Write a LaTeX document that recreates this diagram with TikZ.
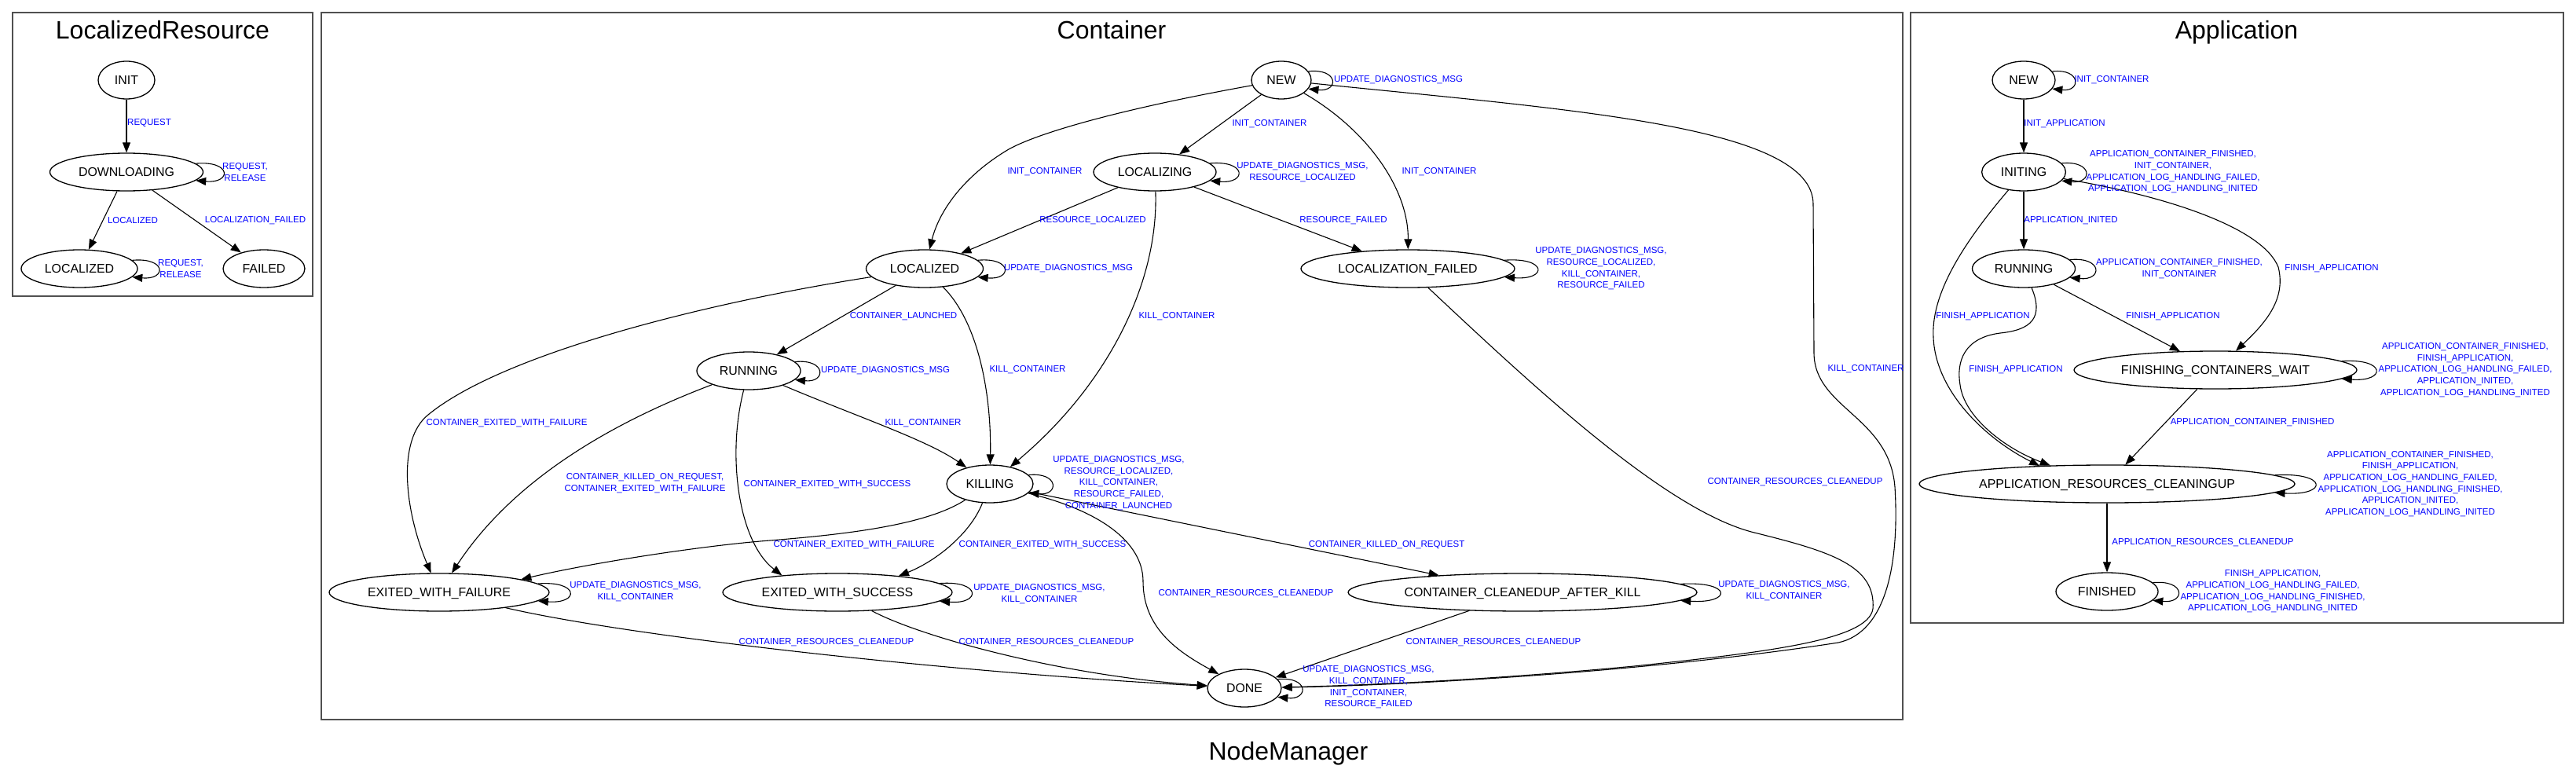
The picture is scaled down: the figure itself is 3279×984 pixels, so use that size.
\documentclass[tikz,border=0pt]{standalone}
\usepackage{fontspec}
\setmainfont{Liberation Sans}
\usetikzlibrary{arrows.meta,shapes.geometric}
\definecolor{clustergray}{RGB}{80,80,80}
\begin{document}
\begin{tikzpicture}[
		x=0.5pt, y=-0.5pt,
		state/.style={ellipse, draw, line width=0.65pt, inner sep=0pt, minimum height=24pt,
			text height=5.7pt, text depth=0pt, font=\fontsize{7.95pt}{9pt}\selectfont},
		lbl/.style={inner sep=0pt, text=blue, align=center, font=\fontsize{5.75pt}{7.35pt}\selectfont},
		edge/.style={line width=0.55pt, -{Triangle[length=6.5pt,width=5pt]}},
		cluster/.style={draw=clustergray, line width=0.9pt},
		title/.style={anchor=base, inner sep=0pt, font=\fontsize{16pt}{19pt}\selectfont}
	]
	\useasboundingbox (0,0) rectangle (3279,984);

	\draw[cluster] (16,16) rectangle (398,377);
	\node[title] (t-lr) at (207,50) {LocalizedResource};
	\node[state, minimum width=36pt] (lr-init) at (161,102) {INIT};
	\node[state, minimum width=97.5pt] (lr-dl) at (161,219) {DOWNLOADING};
	\node[state, minimum width=74pt] (lr-loc) at (101,342) {LOCALIZED};
	\node[state, minimum width=52pt] (lr-failed) at (336,342) {FAILED};
	\draw[edge] (lr-init) -- (lr-dl);
	\draw[edge] (lr-dl.7) .. controls +(46,-4) and +(46,4) .. (lr-dl.-7);
	\draw[edge] (lr-dl) -- (lr-loc);
	\draw[edge] (lr-dl) -- (lr-failed);
	\draw[edge] (lr-loc.9) .. controls +(44,-4) and +(44,4) .. (lr-loc.-9);
	\node[lbl] (l-lr1) at (190,157) {REQUEST};
	\node[lbl] (l-lr2) at (312,219) {REQUEST,\\RELEASE};
	\node[lbl] (l-lr3) at (169,281) {LOCALIZED};
	\node[lbl] (l-lr4) at (325,281) {LOCALIZATION\_FAILED};
	\node[lbl] (l-lr5) at (230,342) {REQUEST,\\RELEASE};

	\draw[cluster] (409,16) rectangle (2422,916);
	\node[title] (t-c) at (1415,50) {Container};
	\node[state, minimum width=38pt] (c-new) at (1631,102) {NEW};
	\node[state, minimum width=78pt] (c-lzing) at (1470,219) {LOCALIZING};
	\node[state, minimum width=74.5pt] (c-lzed) at (1177,342) {LOCALIZED};
	\node[state, minimum width=136pt] (c-lfail) at (1792,342) {LOCALIZATION\_FAILED};
	\node[state, minimum width=66pt] (c-run) at (953,472) {RUNNING};
	\node[state, minimum width=55pt] (c-kill) at (1260,616) {KILLING};
	\node[state, minimum width=140pt] (c-ewf) at (559,754) {EXITED\_WITH\_FAILURE};
	\node[state, minimum width=146pt] (c-ews) at (1066,754) {EXITED\_WITH\_SUCCESS};
	\node[state, minimum width=222pt] (c-ccak) at (1938,754) {CONTAINER\_CLEANEDUP\_AFTER\_KILL};
	\node[state, minimum width=47pt] (c-done) at (1584,876) {DONE};
	\draw[edge] (c-new.18) .. controls +(39,-4) and +(39,4) .. (c-new.-18);
	\draw[edge] (c-new) -- (c-lzing);
	\draw[edge] (c-new) .. controls (1420,140) and (1320,170) .. (1284,190)
		.. controls (1225,225) and (1195,270) .. (c-lzed);
	\draw[edge] (c-new) .. controls (1740,165) and (1793,240) .. (c-lfail);
	\draw[edge] (c-new) .. controls (2000,140) and (2308,160) .. (2308,260) -- (2309,450)
		.. controls (2310,520) and (2405,530) .. (2412,620)
		.. controls (2418,720) and (2400,805) .. (2340,818)
		.. controls (2100,855) and (1800,872) .. (c-done);
	\draw[edge] (c-lzing.9) .. controls +(47,-4) and +(47,4) .. (c-lzing.-9);
	\draw[edge] (c-lzing) -- (c-lzed);
	\draw[edge] (c-lzing) -- (c-lfail);
	\draw[edge] (c-lzing) .. controls (1475,360) and (1410,490) .. (c-kill);
	\draw[edge] (c-lzed.9) .. controls +(44,-4) and +(44,4) .. (c-lzed.-9);
	\draw[edge] (c-lzed) -- (c-run);
	\draw[edge] (c-lzed) .. controls (1245,410) and (1262,500) .. (c-kill);
	\draw[edge] (c-lzed) .. controls (900,385) and (640,450) .. (545,528)
		.. controls (505,560) and (515,650) .. (c-ewf);
	\draw[edge] (c-lfail.5) .. controls +(55,-4) and +(55,4) .. (c-lfail.-5);
	\draw[edge] (c-lfail) .. controls (1950,490) and (2120,650) .. (2233,678)
		.. controls (2330,702) and (2388,720) .. (2384,775)
		.. controls (2378,815) and (2250,830) .. (2080,848)
		.. controls (1900,865) and (1750,872) .. (c-done);
	\draw[edge] (c-run.11) .. controls +(40,-4) and +(40,4) .. (c-run.-11);
	\draw[edge] (c-run) .. controls (1090,530) and (1180,560) .. (c-kill);
	\draw[edge] (c-run) .. controls (800,530) and (660,600) .. (c-ewf);
	\draw[edge] (c-run) .. controls (925,580) and (940,690) .. (c-ews.163);
	\draw[edge] (c-kill.13) .. controls +(39,-4) and +(39,4) .. (c-kill.-13);
	\draw[edge] (c-kill) .. controls (1180,668) and (1080,680) .. (980,688)
		.. controls (900,694) and (760,715) .. (c-ewf.9);
	\draw[edge] (c-kill) .. controls (1235,680) and (1190,715) .. (c-ews.15);
	\draw[edge] (c-kill) -- (c-ccak);
	\draw[edge] (c-kill) .. controls (1400,650) and (1455,690) .. (1455,740)
		.. controls (1455,800) and (1500,830) .. (c-done);
	\draw[edge] (c-ewf.5) .. controls +(53,-4) and +(53,4) .. (c-ewf.-5);
	\draw[edge] (c-ewf) .. controls (800,810) and (1200,855) .. (c-done);
	\draw[edge] (c-ews.5) .. controls +(53,-4) and +(53,4) .. (c-ews.-5);
	\draw[edge] (c-ews) .. controls (1170,810) and (1350,860) .. (c-done);
	\draw[edge] (c-ccak.3) .. controls +(66,-4) and +(66,4) .. (c-ccak.-3);
	\draw[edge] (c-ccak) -- (c-done);
	\draw[edge] (c-done.15) .. controls +(40,-4) and +(40,4) .. (c-done.-15);
	\node[lbl] (l-c1) at (1780,102) {UPDATE\_DIAGNOSTICS\_MSG};
	\node[lbl] (l-c2) at (1616,158) {INIT\_CONTAINER};
	\node[lbl] (l-c3) at (1330,219) {INIT\_CONTAINER};
	\node[lbl] (l-c4) at (1832,219) {INIT\_CONTAINER};
	\node[lbl] (l-c5) at (2375,470) {KILL\_CONTAINER};
	\node[lbl] (l-c6) at (1658,219) {UPDATE\_DIAGNOSTICS\_MSG,\\RESOURCE\_LOCALIZED};
	\node[lbl] (l-c7) at (1391,281) {RESOURCE\_LOCALIZED};
	\node[lbl] (l-c8) at (1710,281) {RESOURCE\_FAILED};
	\node[lbl] (l-c9) at (1498,403) {KILL\_CONTAINER};
	\node[lbl] (l-c10) at (1360,342) {UPDATE\_DIAGNOSTICS\_MSG};
	\node[lbl] (l-c11) at (1150,403) {CONTAINER\_LAUNCHED};
	\node[lbl] (l-c12) at (1308,471) {KILL\_CONTAINER};
	\node[lbl] (l-c13) at (645,539) {CONTAINER\_EXITED\_WITH\_FAILURE};
	\node[lbl] (l-c14) at (2038,342) {UPDATE\_DIAGNOSTICS\_MSG,\\RESOURCE\_LOCALIZED,\\KILL\_CONTAINER,\\RESOURCE\_FAILED};
	\node[lbl] (l-c15) at (2285,614) {CONTAINER\_RESOURCES\_CLEANEDUP};
	\node[lbl] (l-c16) at (1127,472) {UPDATE\_DIAGNOSTICS\_MSG};
	\node[lbl] (l-c17) at (1175,539) {KILL\_CONTAINER};
	\node[lbl] (l-c18) at (821,615) {CONTAINER\_KILLED\_ON\_REQUEST,\\CONTAINER\_EXITED\_WITH\_FAILURE};
	\node[lbl] (l-c19) at (1053,617) {CONTAINER\_EXITED\_WITH\_SUCCESS};
	\node[lbl] (l-c20) at (1424,615) {UPDATE\_DIAGNOSTICS\_MSG,\\RESOURCE\_LOCALIZED,\\KILL\_CONTAINER,\\RESOURCE\_FAILED,\\CONTAINER\_LAUNCHED};
	\node[lbl] (l-c21) at (1087,694) {CONTAINER\_EXITED\_WITH\_FAILURE};
	\node[lbl] (l-c22) at (1327,694) {CONTAINER\_EXITED\_WITH\_SUCCESS};
	\node[lbl] (l-c23) at (1765,694) {CONTAINER\_KILLED\_ON\_REQUEST};
	\node[lbl] (l-c24) at (1586,756) {CONTAINER\_RESOURCES\_CLEANEDUP};
	\node[lbl] (l-c25) at (809,753) {UPDATE\_DIAGNOSTICS\_MSG,\\KILL\_CONTAINER};
	\node[lbl] (l-c26) at (1323,756) {UPDATE\_DIAGNOSTICS\_MSG,\\KILL\_CONTAINER};
	\node[lbl] (l-c27) at (2271,752) {UPDATE\_DIAGNOSTICS\_MSG,\\KILL\_CONTAINER};
	\node[lbl] (l-c28) at (1052,818) {CONTAINER\_RESOURCES\_CLEANEDUP};
	\node[lbl] (l-c29) at (1332,818) {CONTAINER\_RESOURCES\_CLEANEDUP};
	\node[lbl] (l-c30) at (1901,818) {CONTAINER\_RESOURCES\_CLEANEDUP};
	\node[lbl] (l-c31) at (1742,875) {UPDATE\_DIAGNOSTICS\_MSG,\\KILL\_CONTAINER,\\INIT\_CONTAINER,\\RESOURCE\_FAILED};

	\draw[cluster] (2432,16) rectangle (3263,793);
	\node[title] (t-a) at (2847,50) {Application};
	\node[state, minimum width=40pt] (a-new) at (2576,102) {NEW};
	\node[state, minimum width=53.4pt] (a-initing) at (2576,219) {INITING};
	\node[state, minimum width=65.5pt] (a-run) at (2576,342) {RUNNING};
	\node[state, minimum width=180pt] (a-fcw) at (2820,471) {FINISHING\_CONTAINERS\_WAIT};
	\node[state, minimum width=239pt] (a-arc) at (2682,616) {APPLICATION\_RESOURCES\_CLEANINGUP};
	\node[state, minimum width=65pt] (a-fin) at (2682,753) {FINISHED};
	\draw[edge] (a-new.17) .. controls +(37,-4) and +(37,4) .. (a-new.-17);
	\draw[edge] (a-new) -- (a-initing);
	\draw[edge] (a-initing.13) .. controls +(40,-4) and +(40,4) .. (a-initing.-13);
	\draw[edge] (a-initing) -- (a-run);
	\draw[edge] (a-initing) .. controls (2760,250) and (2880,290) .. (2900,340)
		.. controls (2910,380) and (2885,410) .. (a-fcw);
	\draw[edge] (a-initing) .. controls (2490,320) and (2458,380) .. (2461,430)
		.. controls (2464,500) and (2530,560) .. (a-arc.165);
	\draw[edge] (a-run.11) .. controls +(42,-4) and +(42,4) .. (a-run.-11);
	\draw[edge] (a-run) .. controls (2602,405) and (2585,420) .. (2546,424)
		.. controls (2500,430) and (2490,460) .. (2495,490)
		.. controls (2500,530) and (2550,570) .. (a-arc.162);
	\draw[edge] (a-run) -- (a-fcw);
	\draw[edge] (a-fcw.4) .. controls +(57,-4) and +(57,4) .. (a-fcw.-4);
	\draw[edge] (a-fcw) -- (a-arc);
	\draw[edge] (a-arc.3) .. controls +(68,-4) and +(68,4) .. (a-arc.-3);
	\draw[edge] (a-arc) -- (a-fin);
	\draw[edge] (a-fin.11) .. controls +(42,-4) and +(42,4) .. (a-fin.-11);
	\node[lbl] (l-a1) at (2688,102) {INIT\_CONTAINER};
	\node[lbl] (l-a2) at (2628,158) {INIT\_APPLICATION};
	\node[lbl] (l-a3) at (2766,219) {APPLICATION\_CONTAINER\_FINISHED,\\INIT\_CONTAINER,\\APPLICATION\_LOG\_HANDLING\_FAILED,\\APPLICATION\_LOG\_HANDLING\_INITED};
	\node[lbl] (l-a4) at (2636,281) {APPLICATION\_INITED};
	\node[lbl] (l-a5) at (2774,342) {APPLICATION\_CONTAINER\_FINISHED,\\INIT\_CONTAINER};
	\node[lbl] (l-a6) at (2968,342) {FINISH\_APPLICATION};
	\node[lbl] (l-a7) at (2524,403) {FINISH\_APPLICATION};
	\node[lbl] (l-a8) at (2766,403) {FINISH\_APPLICATION};
	\node[lbl] (l-a9) at (2566,471) {FINISH\_APPLICATION};
	\node[lbl] (l-a10) at (3138,471) {APPLICATION\_CONTAINER\_FINISHED,\\FINISH\_APPLICATION,\\APPLICATION\_LOG\_HANDLING\_FAILED,\\APPLICATION\_INITED,\\APPLICATION\_LOG\_HANDLING\_INITED};
	\node[lbl] (l-a11) at (2867,538) {APPLICATION\_CONTAINER\_FINISHED};
	\node[lbl] (l-a12) at (3068,616) {APPLICATION\_CONTAINER\_FINISHED,\\FINISH\_APPLICATION,\\APPLICATION\_LOG\_HANDLING\_FAILED,\\APPLICATION\_LOG\_HANDLING\_FINISHED,\\APPLICATION\_INITED,\\APPLICATION\_LOG\_HANDLING\_INITED};
	\node[lbl] (l-a13) at (2804,691) {APPLICATION\_RESOURCES\_CLEANEDUP};
	\node[lbl] (l-a14) at (2893,753) {FINISH\_APPLICATION,\\APPLICATION\_LOG\_HANDLING\_FAILED,\\APPLICATION\_LOG\_HANDLING\_FINISHED,\\APPLICATION\_LOG\_HANDLING\_INITED};

	\node[title] (t-nm) at (1640,967) {NodeManager};
\end{tikzpicture}
\end{document}
